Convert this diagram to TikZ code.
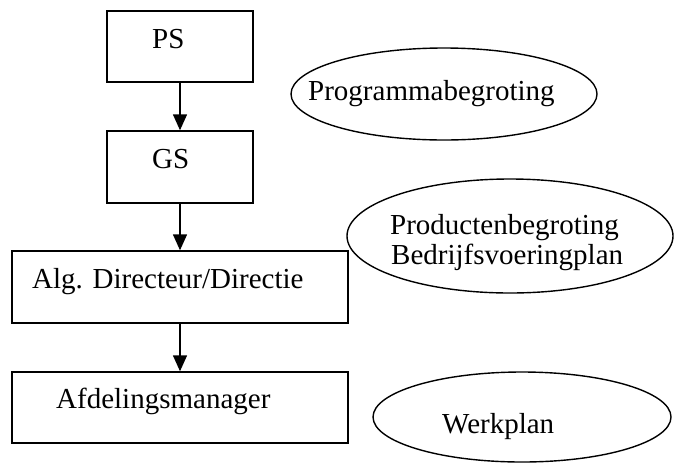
\documentclass[tikz,border=0pt]{standalone}
\usepackage{fontspec}
\setmainfont{Liberation Serif}
\usetikzlibrary{arrows.meta,shapes.geometric}

\tikzset{
  unit/.style={draw=black, line width=1.4pt, rectangle, inner sep=0pt},
  goal/.style={draw=black, line width=1.4pt, ellipse, inner sep=0pt},
  lbl/.style={anchor=base west, inner sep=0pt, font=\fontsize{29}{31}\selectfont},
  flow/.style={line width=1.4pt, -{Triangle[length=16pt,width=14pt]}},
}

\begin{document}
\begin{tikzpicture}[x=1pt, y=-1pt]
  \useasboundingbox (0,0) rectangle (674,464);

  % organisation boxes
  \node[unit, minimum width=146pt, minimum height=71pt] (ps)  at (180,46.5)  {};
  \node[unit, minimum width=146pt, minimum height=72pt] (gs)  at (180,167)   {};
  \node[unit, minimum width=336pt, minimum height=72pt] (alg) at (180,287)   {};
  \node[unit, minimum width=336pt, minimum height=71pt] (afd) at (180,407.5) {};

  \node[lbl] (psT)  at (152,48)  {PS};
  \node[lbl] (gsT)  at (152,168) {GS};
  \node[lbl] (algT) at (32,288)  {Alg. Directeur/Directie};
  \node[lbl] (afdT) at (56,408)  {Afdelingsmanager};

  % planning documents
  \node[goal, minimum width=306pt, minimum height=92pt]  (prog) at (444,94)  {};
  \node[goal, minimum width=326pt, minimum height=114pt] (prod) at (510,236) {};
  \node[goal, minimum width=298pt, minimum height=90pt]  (werk) at (522,417) {};

  \node[lbl] (progT)  at (308,100) {Programmabegroting};
  \node[lbl] (prodT)  at (390,234) {Productenbegroting};
  \node[lbl] (bedrT)  at (391,264) {Bedrijfsvoeringplan};
  \node[lbl] (werkT)  at (442,433) {Werkplan};

  % hierarchy
  \draw[flow] (ps.south)  -- (gs.north);
  \draw[flow] (gs.south)  -- (alg.north);
  \draw[flow] (alg.south) -- (afd.north);
\end{tikzpicture}
\end{document}
